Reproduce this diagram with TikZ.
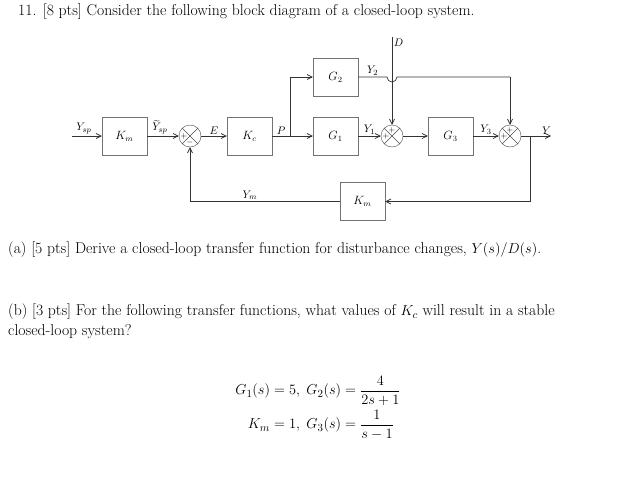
\documentclass[tikz,border=0pt]{standalone}
\usepackage{amsmath}
\usetikzlibrary{arrows.meta}
\begin{document}
\begin{tikzpicture}[x=1pt,y=-1pt,
 blk/.style={draw=black!55,minimum width=45pt,minimum height=38pt,inner sep=0pt,font=\fontsize{12}{14}\selectfont},
 sumj/.style={draw=black!70,circle,minimum size=22pt,inner sep=0pt},
 sig/.style={draw=black!80,line width=0.7pt,-{Straight Barb[length=5pt,width=5pt]}},
 ln/.style={draw=black!80,line width=0.7pt},
 lab/.style={font=\fontsize{11}{13}\selectfont,inner sep=1.5pt},
 pm/.style={font=\fontsize{8}{9}\selectfont,inner sep=0pt},
 txt/.style={anchor=west,inner sep=0,font=\fontsize{15.7}{18}\selectfont}]
\useasboundingbox (0,0) rectangle (644,493);
\node[txt] (title) at (18,12) {11. [8 pts] Consider the following block diagram of a closed-loop system.};
\coordinate (in) at (72,136);
\node[blk] (km1) at (124.5,136) {$K_m$};
\node[sumj] (s1) at (190,136) {};
\node[blk] (kc) at (249.5,136) {$K_c$};
\node[blk] (g1) at (335.5,136) {$G_1$};
\node[blk] (g2) at (335.5,77) {$G_2$};
\node[sumj] (s2) at (392,136) {};
\node[blk] (g3) at (450.5,136) {$G_3$};
\node[sumj] (s3) at (510,136) {};
\coordinate (out) at (551,136);
\coordinate (tap) at (530,136);
\coordinate (dtop) at (392,37);
\coordinate (br) at (290,136);
\node[blk] (km2) at (362.5,201.5) {$K_m$};
\foreach \s in {s1,s2,s3}{
 \draw[black!70] (\s.45)--(\s.225) (\s.135)--(\s.315);}
\node[pm] at (184,136) {$+$}; \node[pm] at (190,142) {$-$};
\node[pm] at (386,136) {$+$}; \node[pm] at (392,130) {$+$};
\node[pm] at (504,136) {$+$}; \node[pm] at (510,130) {$+$};
\draw[sig] (in) -- node[lab,above,pos=0.4]{$Y_{sp}$} (km1);
\draw[sig] (km1) -- node[lab,above,pos=0.4]{$\widetilde{Y}_{sp}$} (s1);
\draw[sig] (s1) -- node[lab,above]{$E$} (kc);
\draw[ln] (kc.east) -- node[lab,above]{$P$} (br);
\draw[sig] (br) -- (g1);
\draw[sig] (br) |- (g2);
\draw[sig] (g1) -- node[lab,above]{$Y_1$} (s2);
\draw[sig] (s2) -- (g3);
\draw[sig] (g3) -- node[lab,above]{$Y_3$} (s3);
\draw[sig] (s3) -- node[lab,above,pos=0.85]{$Y$} (out);
\draw[sig] (dtop) node[lab,below right]{$D$} -- (s2);
\draw[ln] (g2.east) -- node[lab,above]{$Y_2$} (387,77) arc[start angle=180,end angle=0,radius=5] -- (510,77);
\draw[sig] (510,77) -- (s3);
\draw[sig] (tap) |- (km2);
\draw[sig] (km2.west) -| node[lab,above,pos=0.3]{$Y_m$} (s1);
\node[txt] (pa) at (8,250) {(a) [5 pts] Derive a closed-loop transfer function for disturbance changes, $Y(s)/D(s)$.};
\node[txt] (pb1) at (8,312) {(b) [3 pts] For the following transfer functions, what values of $K_c$ will result in a stable};
\node[txt] (pb2) at (8,332) {closed-loop system?};
\node[font=\fontsize{15.7}{18}\selectfont] (eq) at (318,408) {$\begin{aligned}G_1(s)=5,\;G_2(s)&=\frac{4}{2s+1}\\[0pt] K_m=1,\;G_3(s)&=\frac{1}{s-1}\end{aligned}$};
\end{tikzpicture}
\end{document}
